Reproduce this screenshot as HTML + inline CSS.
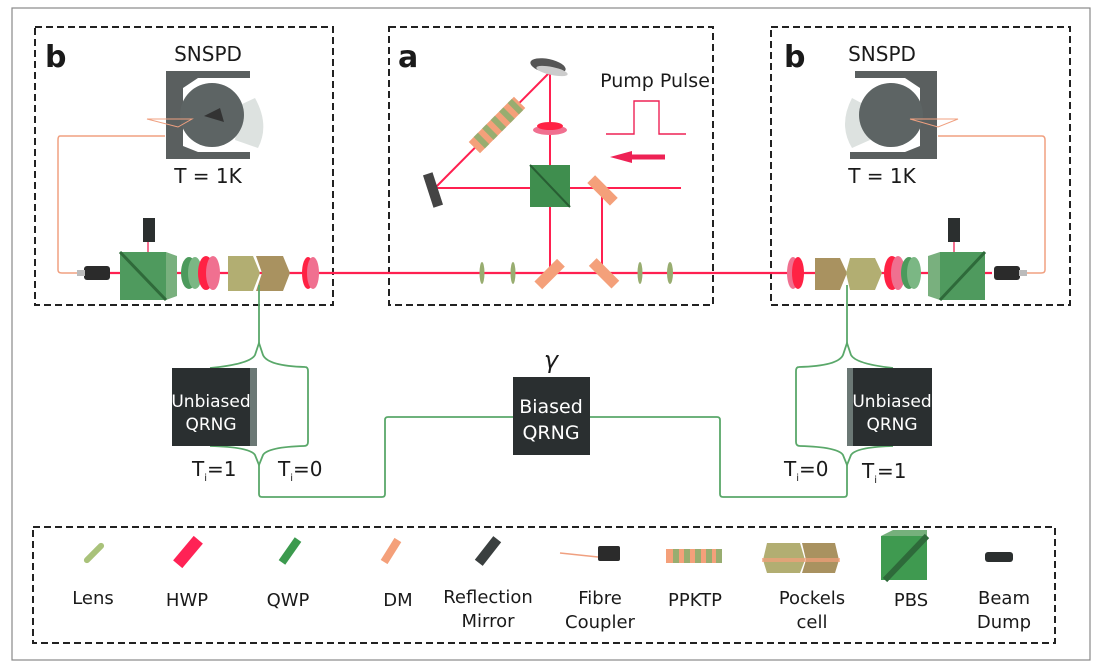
<!DOCTYPE html>
<html><head><meta charset="utf-8"><style>
html,body{margin:0;padding:0;background:#fff}
svg{display:block}
text{font-family:"DejaVu Sans","Liberation Sans",sans-serif;fill:#1a1a1a}
</style></head><body>
<svg width="1103" height="670" viewBox="0 0 1103 670" xmlns="http://www.w3.org/2000/svg">
<rect x="12" y="8" width="1078" height="652" fill="none" stroke="#888" stroke-width="1.2"/>
<g fill="none" stroke="#222" stroke-width="2" stroke-dasharray="7,4">
<rect x="35" y="27" width="298" height="278"/>
<rect x="389" y="27" width="324" height="278"/>
<rect x="771" y="27" width="299" height="278"/>
<rect x="33" y="527" width="1022" height="116"/>
</g>
<text x="45" y="67" font-size="30" font-weight="bold">b</text>
<text x="398" y="67" font-size="30" font-weight="bold">a</text>
<text x="784" y="67" font-size="30" font-weight="bold">b</text>
<text x="208" y="61" font-size="20" text-anchor="middle">SNSPD</text>
<text x="208" y="183" font-size="20" text-anchor="middle">T = 1K</text>
<text x="882" y="61" font-size="20" text-anchor="middle">SNSPD</text>
<text x="882" y="183" font-size="20" text-anchor="middle">T = 1K</text>
<text x="655" y="87" font-size="19" text-anchor="middle">Pump Pulse</text>

<!-- SNSPD left -->
<g>
<path d="M166 71 H250 V78 H198 L183 88 V146 L198 152 H250 V159 H166 Z" fill="#5a5f5f"/>
<path d="M240 105 L255 98 Q270 125 258 148 L235 140 Z" fill="#dde2e0"/>
<circle cx="212" cy="115" r="32" fill="#5d6464"/>
<path d="M204 116 L220 108 L224 122 Z" fill="#333"/>
<path d="M147 119 L192 119 L178 127 Z" fill="none" stroke="#f0a080" stroke-width="1"/>
<path d="M165 136 H60 Q58 136 58 140 V270 Q58 273 62 273 H82" fill="none" stroke="#f0a080" stroke-width="1.5"/>
</g>
<!-- SNSPD right -->
<g>
<path d="M937 71 H855 V78 H905 L920 88 V146 L905 152 H850 V159 H937 Z" fill="#5a5f5f"/>
<path d="M865 105 L852 98 Q838 125 852 148 L870 140 Z" fill="#dde2e0"/>
<circle cx="891" cy="115" r="32" fill="#5d6464"/>
<path d="M910 119 L958 119 L938 127 Z" fill="none" stroke="#f0a080" stroke-width="1"/>
<path d="M938 136 H1042 Q1045 136 1045 140 V270 Q1045 273 1041 273 H1025" fill="none" stroke="#f0a080" stroke-width="1.5"/>
</g>

<!-- main beam -->
<line x1="108" y1="273" x2="992" y2="273" stroke="#ff2050" stroke-width="2.2"/>

<!-- left b optics -->
<rect x="84" y="266" width="26" height="14" rx="3" fill="#2b2b2b"/>
<rect x="77" y="270" width="8" height="6" fill="#bbb"/>
<line x1="148" y1="240" x2="148" y2="273" stroke="#ee2255" stroke-width="1.3"/>
<rect x="143" y="218" width="12" height="24" fill="#2b2f2f"/>
<rect x="120" y="252" width="46" height="48" fill="#4f9a5e"/>
<path d="M166 252 L177 256 V296 L166 300 Z" fill="#79b07e"/>
<line x1="120" y1="252" x2="166" y2="300" stroke="#2f6a3a" stroke-width="3"/>
<ellipse cx="189" cy="273" rx="8" ry="16" fill="#4c9a5c"/>
<ellipse cx="195" cy="273" rx="7" ry="16" fill="#7bb784"/>
<ellipse cx="206" cy="273" rx="8" ry="17" fill="#ff2244"/>
<ellipse cx="213" cy="273" rx="7" ry="17" fill="#f07090"/>
<path d="M228 256 H253 L260 273 L253 291 H228 Z" fill="#b2ae72"/>
<path d="M256 256 H283 L290 273 L283 291 H256 L262 273 Z" fill="#a99260"/>
<ellipse cx="308" cy="273" rx="6" ry="16" fill="#ff2244"/>
<ellipse cx="313" cy="273" rx="6" ry="16" fill="#f07090"/>

<!-- right b optics -->
<ellipse cx="793" cy="273" rx="6" ry="16" fill="#f07090"/>
<ellipse cx="798" cy="273" rx="6" ry="16" fill="#ff2244"/>
<path d="M815 258 H840 L847 273 L840 290 H815 Z" fill="#a99260"/>
<path d="M850 258 H875 L882 273 L875 290 H850 L846 273 Z" fill="#b2ae72"/>
<ellipse cx="892" cy="273" rx="8" ry="17" fill="#ff2244"/>
<ellipse cx="898" cy="273" rx="7" ry="17" fill="#f07090"/>
<ellipse cx="909" cy="273" rx="8" ry="16" fill="#4c9a5c"/>
<ellipse cx="914" cy="273" rx="7" ry="16" fill="#7bb784"/>
<line x1="954" y1="240" x2="954" y2="273" stroke="#ee2255" stroke-width="1.3"/>
<rect x="948" y="218" width="12" height="24" fill="#2b2f2f"/>
<path d="M928 256 L940 252 V300 L928 296 Z" fill="#79b07e"/>
<rect x="940" y="252" width="45" height="48" fill="#4f9a5e"/>
<line x1="940" y1="300" x2="985" y2="252" stroke="#2e6a3a" stroke-width="3"/>
<rect x="994" y="266" width="26" height="14" rx="3" fill="#2b2b2b"/>
<rect x="1019" y="270" width="8" height="6" fill="#bbb"/>

<!-- panel a -->
<g stroke="#ff2050" stroke-width="2" fill="none">
<line x1="550" y1="72" x2="550" y2="273"/>
<line x1="550" y1="72" x2="435" y2="188"/>
<line x1="435" y1="188" x2="681" y2="188"/>
<line x1="602" y1="188" x2="602" y2="273"/>
</g>
<ellipse cx="548" cy="66" rx="18" ry="7" fill="#555" transform="rotate(12 548 66)"/>
<ellipse cx="552" cy="71" rx="16" ry="4" fill="#ccc" transform="rotate(12 552 71)"/>
<rect x="428" y="173" width="10" height="34" fill="#444" transform="rotate(-18 433 190)"/>
<g transform="translate(497,125) rotate(-45)">
<rect x="-32" y="-8" width="64" height="16" fill="#f4a07a"/>
<rect x="-25" y="-8" width="6" height="16" fill="#98ad70"/>
<rect x="-13" y="-8" width="6" height="16" fill="#98ad70"/>
<rect x="-1" y="-8" width="6" height="16" fill="#98ad70"/>
<rect x="11" y="-8" width="6" height="16" fill="#98ad70"/>
<rect x="23" y="-8" width="6" height="16" fill="#98ad70"/>
</g>
<ellipse cx="550" cy="130" rx="17" ry="5" fill="#f07090"/>
<ellipse cx="550" cy="126" rx="13" ry="4" fill="#ff2244"/>
<rect x="530" y="165" width="40" height="42" fill="#3f8e4e"/>
<line x1="530" y1="165" x2="570" y2="207" stroke="#285e33" stroke-width="2"/>
<rect x="596" y="172" width="11" height="32" fill="#f4a07a" transform="rotate(-45 605 188)"/>
<rect x="545" y="258" width="11" height="32" fill="#f4a07a" transform="rotate(45 550 273)"/>
<rect x="598" y="258" width="11" height="32" fill="#f4a07a" transform="rotate(-45 603 273)"/>
<g fill="#98ad70">
<ellipse cx="482" cy="273" rx="2.5" ry="11"/>
<ellipse cx="513" cy="273" rx="2.5" ry="11"/>
<ellipse cx="640" cy="273" rx="2.5" ry="11"/>
<ellipse cx="670" cy="273" rx="3" ry="11"/>
</g>
<polyline points="606,134 634,134 634,101 659,101 659,134 686,134" fill="none" stroke="#ee2255" stroke-width="1.4"/>
<line x1="628" y1="157" x2="665" y2="157" stroke="#ee2255" stroke-width="5"/>
<polygon points="610,157 632,151 632,163" fill="#ee2255"/>

<!-- green control lines -->
<g fill="none" stroke="#5aa86a" stroke-width="1.8">
<line x1="259" y1="285" x2="259" y2="343"/>
<path d="M210 368 Q250 364 255 355 L259 343 L263 355 Q268 366 305 367 Q308 367 308 371 V442 Q308 446 304 446 Q268 447 263 455 L259 465 L255 455 Q250 447 210 446"/>
<path d="M259 465 V494 Q259 497 262 497 H382 Q385 497 385 494 V420 Q385 417 388 417 H513"/>
<path d="M590 417 H717 Q720 417 720 420 V494 Q720 497 723 497 H844 Q847 497 847 494 V465"/>
<line x1="847" y1="285" x2="847" y2="343"/>
<path d="M893 368 Q856 364 851 355 L847 343 L843 355 Q838 366 799 367 Q796 367 796 371 V442 Q796 446 800 446 Q838 447 843 455 L847 465 L851 455 Q856 447 893 446"/>
</g>

<!-- QRNG boxes -->
<rect x="172" y="368" width="85" height="78" fill="#2a2f30"/>
<rect x="250" y="368" width="7" height="78" fill="#6b7875"/>
<text x="211" y="407" font-size="17" text-anchor="middle" style="fill:#fff">Unbiased</text>
<text x="211" y="430" font-size="17" text-anchor="middle" style="fill:#fff">QRNG</text>
<rect x="513" y="377" width="77" height="78" fill="#2a2f30"/>
<text x="551" y="413" font-size="19" text-anchor="middle" style="fill:#fff">Biased</text>
<text x="551" y="439" font-size="19" text-anchor="middle" style="fill:#fff">QRNG</text>
<text x="551" y="368" font-size="24" font-style="italic" text-anchor="middle" font-family="Liberation Serif,serif">γ</text>
<rect x="847" y="368" width="85" height="78" fill="#2a2f30"/>
<rect x="847" y="368" width="6" height="78" fill="#6b7875"/>
<text x="892" y="407" font-size="17" text-anchor="middle" style="fill:#fff">Unbiased</text>
<text x="892" y="430" font-size="17" text-anchor="middle" style="fill:#fff">QRNG</text>

<g font-size="20">
<text x="192" y="476">T<tspan font-size="10" dy="5">i</tspan><tspan dy="-5">=1</tspan></text>
<text x="278" y="476">T<tspan font-size="10" dy="5">i</tspan><tspan dy="-5">=0</tspan></text>
<text x="784" y="476">T<tspan font-size="10" dy="5">i</tspan><tspan dy="-5">=0</tspan></text>
<text x="862" y="478">T<tspan font-size="10" dy="5">i</tspan><tspan dy="-5">=1</tspan></text>
</g>

<!-- legend icons -->
<rect x="81" y="550" width="26" height="6" rx="3" fill="#a9c27a" transform="rotate(-45 94 553)"/>
<rect x="172" y="546" width="32" height="12" fill="#ff2255" transform="rotate(-50 188 552)"/>
<rect x="276" y="547" width="28" height="8" fill="#3c9a4e" transform="rotate(-55 290 551)"/>
<rect x="378" y="547" width="26" height="8" fill="#f4a07a" transform="rotate(-58 391 551)"/>
<rect x="473" y="546" width="30" height="10" fill="#3a3f3f" transform="rotate(-52 488 551)"/>
<line x1="560" y1="553" x2="598" y2="557" stroke="#f0a080" stroke-width="1.5"/>
<rect x="598" y="546" width="22" height="15" rx="2" fill="#2b2b2b"/>
<rect x="666" y="549" width="56" height="14" fill="#f4a07a"/>
<g fill="#98ad70"><rect x="673" y="549" width="6" height="14"/><rect x="684" y="549" width="6" height="14"/><rect x="695" y="549" width="6" height="14"/><rect x="706" y="549" width="6" height="14"/><rect x="716" y="549" width="6" height="14"/></g>
<path d="M767 543 H800 L805 560 L800 573 H767 L763 560 Z" fill="#b2ae72"/>
<path d="M802 543 H835 L839 560 L835 573 H802 L806 560 Z" fill="#a99260"/>
<rect x="762" y="558" width="78" height="4" fill="#f4a07a" opacity="0.7"/>
<rect x="881" y="536" width="46" height="44" fill="#3f9a50"/>
<path d="M881 536 L893 530 H927 V536 Z" fill="#76b07c"/>
<line x1="885" y1="580" x2="927" y2="536" stroke="#2e6a3a" stroke-width="6"/>
<rect x="985" y="552" width="28" height="10" rx="3" fill="#2b2f2f"/>

<g font-size="18" text-anchor="middle">
<text x="93" y="604">Lens</text>
<text x="187" y="606">HWP</text>
<text x="288" y="606">QWP</text>
<text x="398" y="606">DM</text>
<text x="488" y="603">Reflection</text>
<text x="488" y="627">Mirror</text>
<text x="600" y="604">Fibre</text>
<text x="600" y="628">Coupler</text>
<text x="695" y="606">PPKTP</text>
<text x="812" y="604">Pockels</text>
<text x="812" y="628">cell</text>
<text x="911" y="606">PBS</text>
<text x="1004" y="604">Beam</text>
<text x="1004" y="628">Dump</text>
</g>
</svg>
</body></html>
